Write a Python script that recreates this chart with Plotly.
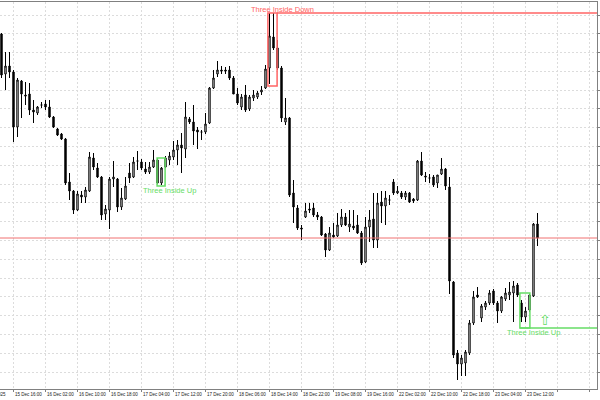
import plotly.graph_objects as go

# OHLC (arbitrary price units, one candle per bar index)
opens = [366, 326, 334, 328, 273, 319, 305, 306, 290, 287, 295, 296, 293, 283, 271, 266, 261, 218, 209, 190,
         205, 203, 209, 242, 232, 223, 186, 190, 221, 221, 193, 201, 227, 223, 239, 238, 231, 228, 233, 240,
         217, 233, 240, 243, 250, 255, 251, 281, 278, 270, 268, 268, 277, 312, 326, 330, 330, 330, 322, 306,
         293, 305, 291, 302, 303, 308, 312, 332, 363, 352, 332, 278, 282, 207, 192, 172, 183, 191, 192, 185,
         183, 166, 150, 165, 164, 175, 183, 173, 174, 175, 167, 138, 173, 181, 160, 198, 194, 200, 218, 207,
         207, 203, 207, 201, 200, 239, 224, 222, 223, 217, 226, 231, 213, 118, 47, 36, 37, 47, 77, 105,
         82, 93, 97, 109, 97, 89, 101, 105, 107, 115, 97, 83, 90, 104, 176]
highs = [367, 348, 348, 330, 322, 320, 318, 317, 300, 294, 298, 300, 300, 284, 272, 267, 262, 227, 210, 209,
         209, 213, 248, 247, 237, 224, 195, 223, 239, 222, 212, 223, 237, 243, 249, 241, 238, 238, 250, 242,
         233, 244, 248, 259, 260, 267, 298, 283, 295, 273, 270, 287, 313, 330, 339, 334, 333, 334, 324, 312,
         306, 315, 305, 310, 309, 314, 335, 387, 387, 360, 334, 302, 283, 220, 195, 175, 197, 197, 197, 188,
         184, 167, 173, 177, 187, 191, 187, 190, 190, 185, 169, 183, 190, 207, 207, 209, 209, 205, 221, 214,
         209, 209, 208, 202, 240, 248, 228, 226, 225, 225, 242, 232, 223, 119, 50, 45, 50, 80, 109, 113,
         96, 99, 110, 111, 99, 104, 112, 118, 119, 117, 100, 93, 106, 177, 187]
lows = [322, 310, 322, 258, 263, 282, 295, 285, 277, 285, 292, 290, 282, 272, 264, 260, 215, 200, 186, 189,
        197, 197, 208, 230, 222, 180, 180, 171, 213, 188, 190, 200, 217, 222, 230, 230, 226, 226, 232, 216,
        215, 232, 235, 240, 235, 227, 242, 276, 255, 251, 260, 266, 276, 311, 323, 326, 326, 320, 306, 295,
        290, 288, 289, 299, 301, 305, 311, 316, 350, 330, 278, 275, 203, 177, 170, 160, 182, 187, 183, 180,
        164, 143, 149, 162, 163, 173, 174, 168, 170, 166, 135, 137, 158, 152, 152, 177, 175, 195, 205, 206,
        201, 200, 197, 197, 199, 224, 218, 217, 213, 212, 225, 210, 106, 42, 20, 24, 24, 45, 75, 102,
        78, 90, 95, 95, 77, 87, 99, 100, 78, 103, 78, 78, 88, 103, 154]
closes = [325, 334, 328, 273, 320, 306, 304, 290, 288, 293, 295, 293, 283, 273, 265, 261, 217, 209, 190, 206,
          203, 210, 243, 233, 223, 185, 191, 221, 223, 193, 202, 214, 222, 238, 239, 232, 228, 233, 240, 217,
          232, 242, 244, 250, 255, 252, 283, 278, 269, 268, 268, 276, 312, 322, 330, 329, 329, 322, 306, 297,
          303, 290, 303, 305, 307, 310, 331, 364, 352, 332, 282, 282, 205, 193, 172, 171, 189, 190, 185, 183,
          165, 150, 167, 163, 175, 183, 175, 176, 172, 167, 137, 173, 180, 160, 197, 194, 202, 200, 207, 209,
          203, 207, 198, 199, 239, 225, 223, 222, 215, 225, 231, 214, 119, 45, 36, 42, 48, 77, 103, 103,
          94, 97, 107, 97, 89, 103, 107, 108, 114, 105, 83, 89, 105, 176, 162]
bars = list(range(len(opens)))

# time axis labels (bar index where each label starts)
label_bars = [-5, 3, 11, 19, 27, 35, 43, 51, 59, 67, 75, 83, 91, 99, 107, 115, 123, 131]
label_text = ["15 Dec 2025", "15 Dec 16:00", "16 Dec 02:00", "16 Dec 10:00", "16 Dec 18:00",
              "17 Dec 04:00", "17 Dec 12:00", "17 Dec 20:00", "18 Dec 06:00", "18 Dec 14:00",
              "18 Dec 22:00", "19 Dec 08:00", "19 Dec 16:00", "22 Dec 02:00", "22 Dec 10:00",
              "22 Dec 18:00", "23 Dec 04:00", "23 Dec 12:00"]

# pattern markers: (first bar, last bar, low, high)
down_box = (66.6, 68.9, 314, 387)
up_box1 = (38.9, 40.9, 214, 242)
up_box2 = (129.6, 132.1, 72, 107)
level_line = 162

RED = "#ff6464"
GREEN = "#66dd66"
X_RANGE = [-0.375, 148.875]
LABEL_FONT = dict(family="Liberation Sans", size=4.5, color="#222")

fig = go.Figure()
fig.add_trace(go.Candlestick(
    x=bars, open=opens, high=highs, low=lows, close=closes,
    increasing=dict(fillcolor="white", line=dict(color="black", width=1)),
    decreasing=dict(fillcolor="black", line=dict(color="black", width=1)),
    showlegend=False, hoverinfo="skip",
))

# horizontal level across the chart
fig.add_shape(type="line", xref="paper", x0=0, x1=1, y0=level_line, y1=level_line,
              line=dict(color="#f07070", width=1))

# Three Inside Down
fig.add_shape(type="rect", x0=down_box[0], x1=down_box[1], y0=down_box[2], y1=down_box[3],
              line=dict(color=RED, width=1.5))
fig.add_shape(type="line", x0=down_box[1], x1=X_RANGE[1], y0=down_box[3], y1=down_box[3],
              line=dict(color=RED, width=1.5))
fig.add_annotation(x=70.2, y=down_box[3] + 4, text="Three Inside Down",
                   showarrow=False, font=dict(family="Liberation Sans", size=7.5, color=RED))

# Three Inside Up (1)
fig.add_shape(type="rect", x0=up_box1[0], x1=up_box1[1], y0=up_box1[2], y1=up_box1[3],
              line=dict(color=GREEN, width=1.5))
fig.add_annotation(x=42.1, y=up_box1[2] - 4.5, text="Three Inside Up",
                   showarrow=False, font=dict(family="Liberation Sans", size=7.5, color=GREEN))

# Three Inside Up (2)
fig.add_shape(type="rect", x0=up_box2[0], x1=up_box2[1], y0=up_box2[2], y1=up_box2[3],
              line=dict(color=GREEN, width=1.5))
fig.add_shape(type="line", x0=up_box2[0], x1=X_RANGE[1], y0=up_box2[2], y1=up_box2[2],
              line=dict(color=GREEN, width=1.5))
fig.add_annotation(x=133.1, y=up_box2[2] - 4.5, text="Three Inside Up",
                   showarrow=False, font=dict(family="Liberation Sans", size=7.5, color=GREEN))
fig.add_annotation(x=135.9, y=up_box2[2] + 8, text="⇧",
                   showarrow=False, font=dict(family="DejaVu Sans", size=14, color=GREEN))

# time labels, left-aligned on their grid line like the terminal does
for b, t in zip(label_bars, label_text):
    if b < X_RANGE[0]:
        fig.add_annotation(x=X_RANGE[0], y=0, xref="x", yref="paper", text=t, showarrow=False,
                           xanchor="right", yanchor="top", xshift=8, yshift=-1, font=LABEL_FONT)
    else:
        fig.add_annotation(x=b, y=0, xref="x", yref="paper", text=t, showarrow=False,
                           xanchor="left", yanchor="top", xshift=-1, yshift=-1, font=LABEL_FONT)

fig.update_layout(
    width=600, height=400,
    margin=dict(l=0, r=3, t=2, b=11),
    paper_bgcolor="white", plot_bgcolor="white",
    showlegend=False,
    boxgap=0.5,
    xaxis=dict(range=X_RANGE, rangeslider=dict(visible=False), tickmode="linear", tick0=3, dtick=8,
               showticklabels=False, showgrid=True, gridcolor="#dcdcdc", griddash="2px,2px", gridwidth=1,
               showline=True, mirror=True, linecolor="#808080", linewidth=1,
               ticks="outside", ticklen=2, tickcolor="#808080", zeroline=False),
    yaxis=dict(range=[11, 398], side="right", tickmode="linear", tick0=385, dtick=18.79,
               showticklabels=False, showgrid=True, gridcolor="#dcdcdc", griddash="2px,2px", gridwidth=1,
               showline=True, linecolor="#808080", linewidth=1,
               ticks="outside", ticklen=2, tickcolor="#808080", zeroline=False),
)

# the page body has a default 8px margin; drop it so the chart sits at the window corner
fig.write_html("out.html", config={"displayModeBar": False},
               post_script="document.body.style.margin='0';")
